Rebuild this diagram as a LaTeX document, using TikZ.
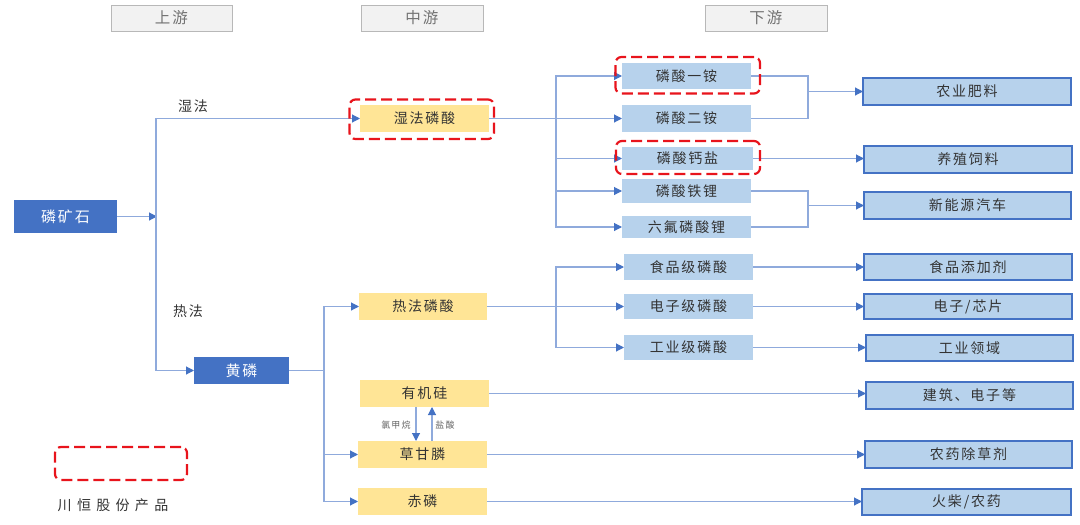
\documentclass[tikz,border=0pt]{standalone}
\usepackage{fontspec}
\setmainfont[LetterSpace=13]{Noto Sans CJK SC}
\usetikzlibrary{arrows.meta}
\definecolor{bluedark}{HTML}{4472C4}
\definecolor{bluelight}{HTML}{B7D2EC}
\definecolor{blueline}{HTML}{8FAADC}
\definecolor{yellowbox}{HTML}{FFE596}
\definecolor{redmark}{HTML}{E8141C}
\definecolor{txt}{HTML}{333333}
\tikzset{
  basebox/.style={inner sep=0pt,outer sep=0pt,font=\fontsize{14}{16}\selectfont,text=txt},
  head/.style={basebox,fill=black!5,draw=black!28,line width=1pt,text=black!55,font=\fontsize{15.5}{17}\selectfont},
  ore/.style={basebox,fill=bluedark,text=white,font=\fontsize{15}{17}\selectfont},
  mid/.style={basebox,fill=yellowbox},
  prod/.style={basebox,fill=bluelight},
  end/.style={basebox,fill=bluelight,draw=bluedark,line width=1.3pt},
  redring/.style={inner sep=0pt,draw=redmark,line width=2.2pt,rounded corners=6pt,dash pattern=on 11pt off 5pt},
  link/.style={draw=blueline,line width=1.1pt},
  arrow/.style={link,-{Triangle[length=8pt,width=8pt,color=bluedark]}},
  lab/.style={inner sep=0pt,font=\fontsize{14}{16}\selectfont,text=txt},
  small/.style={inner sep=0pt,font=\fontsize{9}{11}\selectfont,text=black!60},
}
\newcommand{\pbox}[7][]{%
  \pgfmathsetmacro{\cxv}{(#4+#6)/2}\pgfmathsetmacro{\cyv}{(#5+#7)/2}%
  \pgfmathsetmacro{\wv}{#6-#4}\pgfmathsetmacro{\hv}{#7-#5}%
  \node[#2,minimum width=\wv pt,minimum height=\hv pt] (#3) at (\cxv,\cyv) {\raisebox{-2pt}{#1}};}
\begin{document}
\begin{tikzpicture}[x=1pt,y=-1pt]
\useasboundingbox (0,0) rectangle (1080,525);
% headers
\pbox[上游]{head}{hA}{111}{5}{232}{31}
\pbox[中游]{head}{hB}{361}{5}{483}{31}
\pbox[下游]{head}{hC}{705}{5}{827}{31}
% sources
\pbox[磷矿石]{ore}{ore}{14}{200}{117}{233}
\pbox[黄磷]{ore}{yp}{194}{357}{289}{384}
% middle
\pbox[湿法磷酸]{mid}{wet}{360}{105}{489}{132}
\pbox[热法磷酸]{mid}{hot}{359}{293}{487}{320}
\pbox[有机硅]{mid}{si}{360}{380}{489}{407}
\pbox[草甘膦]{mid}{gly}{358}{441}{487}{468}
\pbox[赤磷]{mid}{red}{358}{488}{487}{515}
% products
\pbox[磷酸一铵]{prod}{mao}{622}{63}{751}{89}
\pbox[磷酸二铵]{prod}{dap}{622}{105}{751}{132}
\pbox[磷酸钙盐]{prod}{cal}{622}{147}{753}{170}
\pbox[磷酸铁锂]{prod}{lfp}{622}{179}{751}{203}
\pbox[六氟磷酸锂]{prod}{lpf}{622}{216}{751}{238}
\pbox[食品级磷酸]{prod}{food}{624}{254}{753}{280}
\pbox[电子级磷酸]{prod}{elec}{624}{294}{753}{319}
\pbox[工业级磷酸]{prod}{ind}{624}{335}{753}{360}
% end uses
\pbox[农业肥料]{end}{e1}{863}{78}{1071}{105}
\pbox[养殖饲料]{end}{e2}{864}{146}{1072}{173}
\pbox[新能源汽车]{end}{e3}{864}{192}{1071}{219}
\pbox[食品添加剂]{end}{e4}{864}{254}{1072}{280}
\pbox[电子/芯片]{end}{e5}{864}{294}{1072}{319}
\pbox[工业领域]{end}{e6}{866}{335}{1073}{361}
\pbox[建筑、电子等]{end}{e7}{866}{382}{1073}{409}
\pbox[农药除草剂]{end}{e8}{865}{441}{1072}{468}
\pbox[火柴/农药]{end}{e9}{862}{489}{1071}{515}
% junctions
\coordinate (j1) at (156,217);
\coordinate (j1b) at (157,217);
\coordinate (j2) at (556,119);
\coordinate (j3) at (556,306.5);
\coordinate (j4) at (808,92);
\coordinate (j5) at (808,207);
\coordinate (j6) at (324,371);
% connectors
\draw[arrow] (ore.east) -- (ore.east -| j1b);
\draw[arrow] (ore.east -| j1) |- (wet.west);
\draw[arrow] (ore.east -| j1) |- (yp.west);
\draw[link] (wet.east) -- (wet.east -| j2);
\draw[arrow] (wet.east -| j2) |- (mao.west);
\draw[arrow] (dap.west -| j2) -- (dap.west);
\draw[arrow] (wet.east -| j2) |- (cal.west);
\draw[arrow] (wet.east -| j2) |- (lfp.west);
\draw[arrow] (wet.east -| j2) |- (lpf.west);
\draw[link] (hot.east) -- (hot.east -| j3);
\draw[arrow] (hot.east -| j3) |- (food.west);
\draw[arrow] (elec.west -| j3) -- (elec.west);
\draw[arrow] (hot.east -| j3) |- (ind.west);
\draw[link] (mao.east) -| (j4);
\draw[link] (dap.east) -| (j4);
\draw[arrow] (e1.west -| j4) -- (e1.west);
\draw[arrow] (cal.east) -- (cal.east -| e2.west);
\draw[link] (lfp.east) -| (j5);
\draw[link] (lpf.east) -| (j5);
\draw[arrow] (e3.west -| j5) -- (e3.west);
\draw[arrow] (food.east) -- (food.east -| e4.west);
\draw[arrow] (elec.east) -- (elec.east -| e5.west);
\draw[arrow] (ind.east) -- (ind.east -| e6.west);
\draw[link] (yp.east) -- (yp.east -| j6);
\draw[arrow] (yp.east -| j6) |- (hot.west);
\draw[arrow] (yp.east -| j6) |- (gly.west);
\draw[arrow] (yp.east -| j6) |- (red.west);
\draw[arrow] (si.east) -- (si.east -| e7.west);
\draw[arrow] (gly.east) -- (gly.east -| e8.west);
\draw[arrow] (red.east) -- (red.east -| e9.west);
\coordinate (sd) at (416,407);
\coordinate (gu) at (432,441);
\draw[arrow] (sd) -- (sd |- gly.north);
\draw[arrow] (gu) -- (gu |- si.south);
% red rings
\pbox{redring}{r1}{349.5}{99.5}{494}{139}
\pbox{redring}{r2}{615.5}{57}{760}{93.5}
\pbox{redring}{r3}{616}{141}{760}{174}
\pbox{redring}{r4}{55}{447}{187}{480}
% labels
\node[lab] (l1) at (193,106) {湿法};
\node[lab] (l2) at (188,311) {热法};
\node[small] (l3) at (396,425) {氯甲烷};
\node[small] (l4) at (445,425) {盐酸};
\node[lab] (l5) at (113,505) {\addfontfeature{LetterSpace=38}川恒股份产品};
\end{tikzpicture}
\end{document}
